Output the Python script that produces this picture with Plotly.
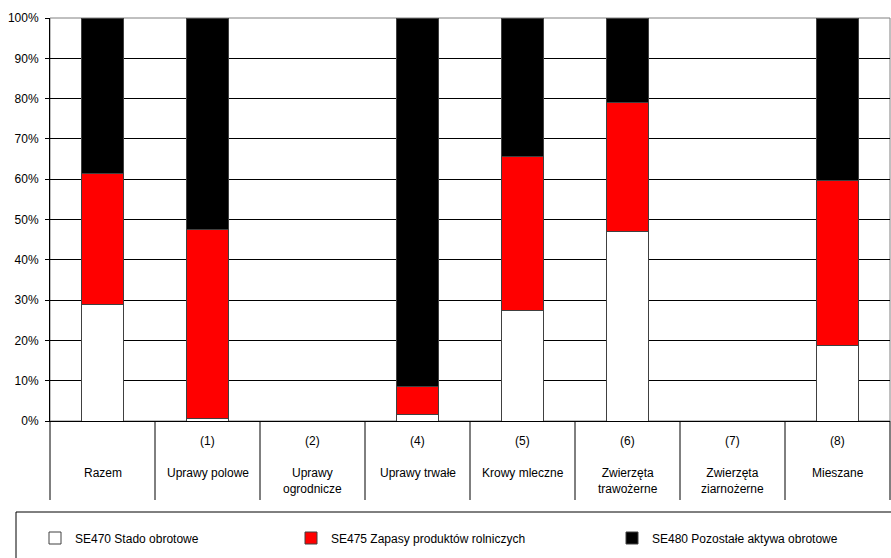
import plotly.graph_objects as go

# ---- data (percent shares) ----
cat_numbers = ["", "(1)", "(2)", "(4)", "(5)", "(6)", "(7)", "(8)"]
cat_names = ["Razem", "Uprawy polowe", "Uprawy<br>ogrodnicze", "Uprawy trwałe",
             "Krowy mleczne", "Zwierzęta<br>trawożerne", "Zwierzęta<br>ziarnożerne", "Mieszane"]
se470 = [28.8, 0.6, 0, 1.5, 27.5, 47.1, 0, 18.8]
se475 = [32.7, 46.9, 0, 7.1, 38.2, 31.9, 0, 40.9]
se480 = [38.5, 52.5, 0, 91.4, 34.3, 21.0, 0, 40.3]
series_names = ["SE470 Stado obrotowe", "SE475 Zapasy produktów rolniczych",
                "SE480 Pozostałe aktywa obrotowe"]
y_ticks = [0, 10, 20, 30, 40, 50, 60, 70, 80, 90, 100]

FONT = "Liberation Sans, Arial, sans-serif"
W, H = 891, 558
L, R, T, B = 50, 1, 18, 137
plot_w = W - L - R
plot_h = H - T - B

def px_x(px):
    return (px - L) / plot_w

def px_y(py):
    return (H - B - py) / plot_h

x = list(range(len(cat_names)))
fig = go.Figure()
colors = ["#FFFFFF", "#FF0000", "#000000"]
for i, (vals, name, col) in enumerate(zip([se470, se475, se480], series_names, colors)):
    fig.add_trace(go.Bar(
        x=x, y=vals, name=name,
        marker=dict(color=col, line=dict(color="#404040", width=1)),
        legend="legend" if i == 0 else f"legend{i+1}",
    ))

shapes = []
# plot-area border (grey top/right)
shapes.append(dict(type="rect", xref="paper", yref="paper", x0=0, x1=1, y0=0, y1=1,
                   line=dict(color="#808080", width=1), layer="below"))
# category separators in the label area
for i in range(len(cat_names) + 1):
    shapes.append(dict(type="line", xref="paper", yref="paper",
                       x0=i / len(cat_names), x1=i / len(cat_names),
                       y0=0, y1=px_y(500), line=dict(color="black", width=1)))
# legend box
shapes.append(dict(type="rect", xref="paper", yref="paper",
                   x0=px_x(16), x1=px_x(900), y0=px_y(512), y1=px_y(565),
                   line=dict(color="black", width=1), fillcolor="rgba(0,0,0,0)"))

annotations = []
for i, (num, nm) in enumerate(zip(cat_numbers, cat_names)):
    if num:
        annotations.append(dict(x=i, xref="x", y=px_y(441), yref="paper", text=num,
                                showarrow=False, yanchor="middle",
                                font=dict(family=FONT, size=12, color="black")))
    annotations.append(dict(x=i, xref="x", y=px_y(464), yref="paper", text=nm,
                            showarrow=False, yanchor="top",
                            font=dict(family=FONT, size=12, color="black")))

leg_common = dict(orientation="h", xref="paper", yref="paper", yanchor="middle",
                  y=px_y(538), bgcolor="rgba(0,0,0,0)", borderwidth=0,
                  font=dict(family=FONT, size=12, color="black"))
fig.update_layout(
    width=W, height=H,
    margin=dict(l=L, r=R, t=T, b=B, pad=0),
    paper_bgcolor="white", plot_bgcolor="white",
    barmode="stack", bargap=0.6,
    font=dict(family=FONT, size=12, color="black"),
    xaxis=dict(range=[-0.5, len(cat_names) - 0.5], showticklabels=False, ticks="",
               showgrid=False, zeroline=False, showline=True, linecolor="black",
               linewidth=1, fixedrange=True),
    yaxis=dict(range=[0, 100], tickvals=y_ticks, ticktext=[f"{v}%" for v in y_ticks],
               showgrid=True, gridcolor="black", gridwidth=1, zeroline=False,
               showline=True, linecolor="black", linewidth=1,
               ticks="outside", ticklen=4, tickcolor="black", ticklabelstandoff=4,
               tickfont=dict(family=FONT, size=12, color="black"), fixedrange=True),
    shapes=shapes,
    annotations=annotations,
    legend=dict(x=px_x(35), **leg_common),
    legend2=dict(x=px_x(291), **leg_common),
    legend3=dict(x=px_x(612), **leg_common),
    showlegend=True,
)

fig.write_html(
    "out.html",
    config={"displayModeBar": False},
    post_script="document.body.style.margin='0';document.body.style.overflow='hidden';",
)
